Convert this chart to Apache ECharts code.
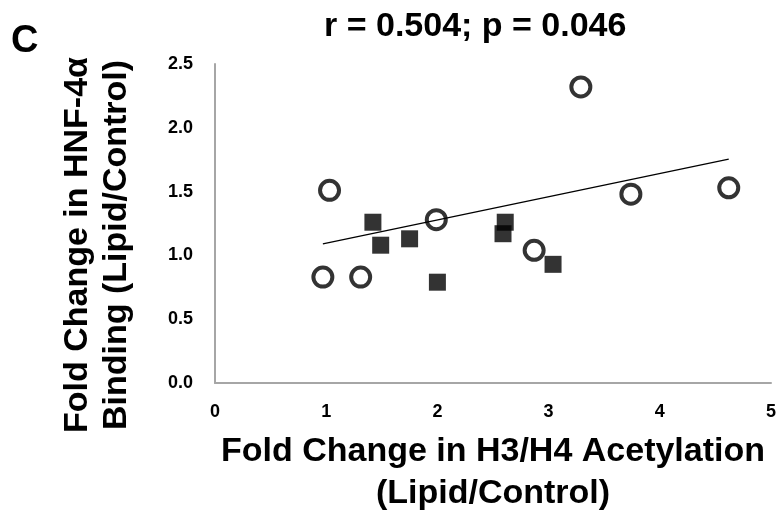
<!DOCTYPE html>
<html>
<head>
<meta charset="utf-8">
<script src="https://cdn.jsdelivr.net/npm/echarts@6/dist/echarts.min.js"></script>
<style>
html,body{margin:0;padding:0;background:#fff;}
#chart{width:778px;height:510px;}
</style>
</head>
<body>
<div id="chart"></div>
<script>
// Open circles
const circleX = [1.03, 0.97, 1.31, 1.99, 2.87, 3.29, 3.74, 4.62];
const circleY = [1.51, 0.83, 0.83, 1.28, 1.04, 2.32, 1.48, 1.53];
// Filled squares
const squareX = [1.42, 1.49, 1.75, 2.00, 2.59, 2.61, 3.04];
const squareY = [1.26, 1.08, 1.13, 0.79, 1.17, 1.26, 0.93];
// Trend line end points
const trendX = [0.97, 4.62];
const trendY = [1.09, 1.755];
// Axis ticks
const xTicks = [0, 1, 2, 3, 4, 5];
const yTicks = [0.0, 0.5, 1.0, 1.5, 2.0, 2.5];

const titleText = 'r = 0.504; p = 0.046';
const panelLabel = 'C';
const xName = 'Fold Change in H3/H4 Acetylation\n(Lipid/Control)';
const yName = 'Fold Change in HNF-4α\nBinding (Lipid/Control)';

const FONT = '"Liberation Sans", Arial, sans-serif';

const pair = (xs, ys) => xs.map((x, i) => [x, ys[i]]);

const chart = echarts.init(document.getElementById('chart'), null, {renderer: 'canvas'});
chart.setOption({
  animation: false,
  backgroundColor: '#ffffff',
  title: [
    {
      text: titleText,
      left: 324, top: 10, padding: 0,
      textStyle: {fontFamily: FONT, fontWeight: 'bold', fontSize: 34, color: '#000'}
    },
    {
      text: panelLabel,
      left: 11, top: 23, padding: 0,
      textStyle: {fontFamily: FONT, fontWeight: 'bold', fontSize: 38, color: '#000'}
    }
  ],
  grid: {left: 215, right: 7, top: 64, bottom: 127, containLabel: false, outerBoundsMode: 'none'},
  xAxis: {
    type: 'value',
    min: xTicks[0], max: xTicks[xTicks.length - 1], interval: 1,
    axisLine: {show: true, lineStyle: {color: '#a6a6a6', width: 2}},
    axisTick: {show: false},
    splitLine: {show: false},
    axisLabel: {fontFamily: FONT, fontWeight: 'bold', fontSize: 18, color: '#000', margin: 20},
    name: xName,
    nameLocation: 'middle',
    nameGap: 48,
    nameTextStyle: {fontFamily: FONT, fontWeight: 'bold', fontSize: 34, color: '#000', lineHeight: 42}
  },
  yAxis: {
    type: 'value',
    min: yTicks[0], max: yTicks[yTicks.length - 1], interval: 0.5,
    axisLine: {show: true, lineStyle: {color: '#a6a6a6', width: 2}},
    axisTick: {show: false},
    splitLine: {show: false},
    axisLabel: {fontFamily: FONT, fontWeight: 'bold', fontSize: 18, color: '#000', margin: 22,
      formatter: v => v.toFixed(1)},
    name: yName,
    nameLocation: 'middle',
    nameGap: 79,
    nameTextStyle: {fontFamily: FONT, fontWeight: 'bold', fontSize: 34, color: '#000', lineHeight: 39,
      padding: [0, 43, 0, 0]}
  },
  series: [
    {
      type: 'scatter',
      data: pair(squareX, squareY),
      symbol: 'rect',
      symbolSize: 17,
      itemStyle: {color: '#000'},
      z: 2
    },
    {
      type: 'scatter',
      data: pair(circleX, circleY),
      symbol: 'circle',
      symbolSize: 19,
      itemStyle: {color: 'rgba(255,255,255,0)', borderColor: '#000', borderWidth: 4},
      z: 3
    },
    {
      type: 'line',
      data: pair(trendX, trendY),
      symbol: 'none',
      lineStyle: {color: '#000', width: 1.3},
      z: 4
    }
  ]
});
</script>
</body>
</html>
